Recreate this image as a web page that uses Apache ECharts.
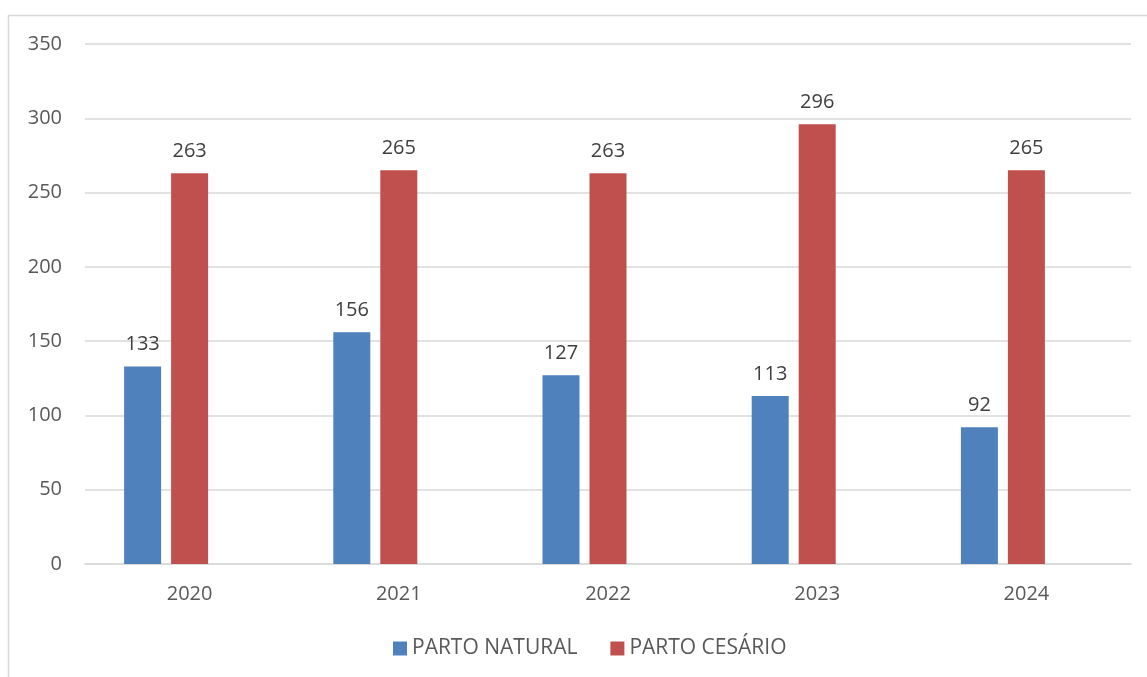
<!DOCTYPE html>
<html><head><meta charset="utf-8">
<script src="https://cdn.jsdelivr.net/npm/echarts@6/dist/echarts.min.js"></script>
<style>html,body{margin:0;padding:0;background:#fff;}#c{width:1147px;height:677px;}</style>
</head><body><div id="c"></div>
<script>
const categories = ['2020','2021','2022','2023','2024'];
const partoNatural = [133,156,127,113,92];
const partoCesario = [263,265,263,296,265];
const emptySeries = [null,null,null,null,null];
const yTicks = {min:0, max:350, interval:50};

const chart = echarts.init(document.getElementById('c'), null, {renderer:'canvas'});
const font = '"Open Sans", "Liberation Sans", sans-serif';
chart.setOption({
  animation:false,
  backgroundColor:'#ffffff',
  textStyle:{fontFamily:font},
  graphic:[{type:'rect', shape:{x:8.5,y:15.5,width:1200,height:800}, style:{fill:null, stroke:'#d9d9d9', lineWidth:1.5}, silent:true, z:-1}],
  grid:{left:85, right:16, top:44, bottom:113},
  legend:{
    data:['PARTO NATURAL','PARTO CESÁRIO'],
    bottom:13, left:388, itemWidth:14, itemHeight:14, itemGap:33,
    icon:'rect',
    textStyle:{fontSize:21, color:'#595959', fontFamily:font}
  },
  xAxis:{type:'category', data:categories,
    axisLine:{lineStyle:{color:'#d9d9d9', width:1.5}}, axisTick:{show:false},
    axisLabel:{fontSize:20, color:'#595959', margin:20, fontFamily:font}},
  yAxis:{type:'value', min:yTicks.min, max:yTicks.max, interval:yTicks.interval,
    axisLine:{show:false}, axisTick:{show:false},
    splitLine:{lineStyle:{color:'#d9d9d9', width:1.5}},
    axisLabel:{fontSize:20, color:'#595959', margin:23, fontFamily:font}},
  series:[
    {name:'PARTO NATURAL', type:'bar', data:partoNatural, barWidth:37, barGap:'27%',
     itemStyle:{color:'#4F81BD'},
     label:{show:true, position:'top', distance:12, fontSize:20, color:'#404040', fontFamily:font}},
    {name:'PARTO CESÁRIO', type:'bar', data:partoCesario, barWidth:37, barGap:'27%',
     itemStyle:{color:'#C0504D'},
     label:{show:true, position:'top', distance:12, fontSize:20, color:'#404040', fontFamily:font}},
    {name:'_empty', type:'bar', data:emptySeries, barWidth:37, barGap:'27%'}
  ]
});
</script></body></html>
